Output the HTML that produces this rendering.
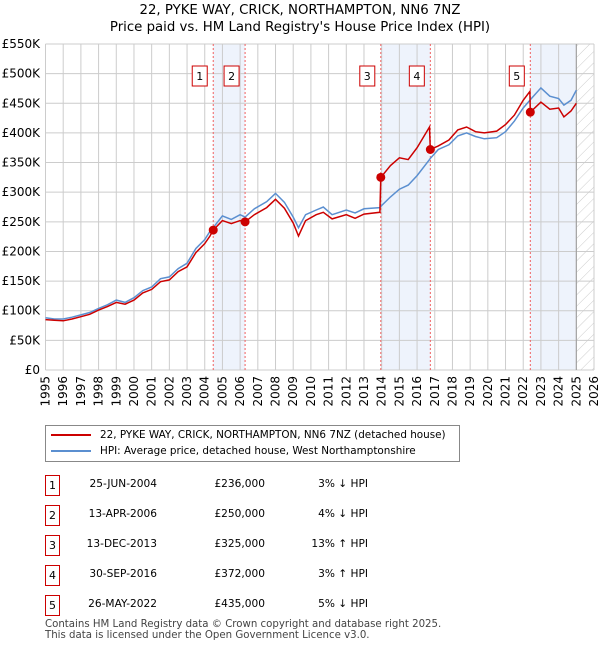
<!DOCTYPE html>
<html><head><meta charset="utf-8"><style>
body{margin:0;background:#fff;font-family:"DejaVu Sans","Liberation Sans",sans-serif;}
#wrap{position:relative;width:600px;height:650px;overflow:hidden}
.t{position:absolute;font-size:10.6px;color:#000;white-space:nowrap}
.box{position:absolute;width:13px;height:19px;border:1px solid #c00;font-size:11px;text-align:center;line-height:19px}
</style></head><body><div id="wrap">
<svg id="chart" width="600" height="420" style="position:absolute;left:0;top:0"></svg>
<div style="position:absolute;left:45px;top:425px;width:413px;height:35px;border:1px solid #888;font-size:10.4px;white-space:nowrap">
<div style="position:absolute;left:5px;top:3px"><span style="display:inline-block;width:40px;height:2px;background:#c00;vertical-align:middle;margin-right:9px"></span>22, PYKE WAY, CRICK, NORTHAMPTON, NN6 7NZ (detached house)</div>
<div style="position:absolute;left:5px;top:19px"><span style="display:inline-block;width:40px;height:2px;background:#5b8fd0;vertical-align:middle;margin-right:9px"></span>HPI: Average price, detached house, West Northamptonshire</div>
</div>
<div id="table"></div>
<div class="t" style="left:45px;top:619px;color:#444;line-height:11px;font-size:10.2px">Contains HM Land Registry data © Crown copyright and database right 2025.<br>This data is licensed under the Open Government Licence v3.0.</div>
</div>
<script>
const dates=[1995.0,1995.5,1996.0,1996.5,1997.0,1997.5,1998.0,1998.5,1999.0,1999.5,2000.0,2000.5,2001.0,2001.5,2002.0,2002.5,2003.0,2003.5,2004.0,2004.3,2004.48,2005.0,2005.5,2006.0,2006.28,2006.8,2007.5,2008.0,2008.5,2009.0,2009.3,2009.7,2010.3,2010.7,2011.2,2012.0,2012.5,2013.0,2013.9,2013.95,2014.5,2015.0,2015.5,2016.0,2016.7,2016.75,2017.2,2017.8,2018.3,2018.8,2019.3,2019.8,2020.5,2021.0,2021.5,2022.0,2022.38,2022.4,2023.0,2023.5,2024.0,2024.3,2024.7,2025.0];
const hpi=[88,86,86,89,93,97,104,110,118,114,122,134,140,154,157,171,180,205,220,234,240,260,254,262,258,272,284,298,283,258,240,262,270,275,262,270,265,272,274,276,292,305,312,328,355,357,372,380,395,400,394,390,392,402,420,442,455,456,476,462,458,447,455,472];
const price=[85,84,83,86,90,94,101,107,114,111,118,130,136,149,152,166,174,198,213,226,236,252,247,252,250,262,274,288,273,248,226,252,262,266,255,262,256,263,266,325,345,358,355,375,410,372,378,388,405,410,402,400,403,414,430,455,470,435,452,440,442,427,437,450];
const saleLabels=["1","2","3","4","5"];
const saleDates=[2004.48,2006.28,2013.95,2016.75,2022.4];
const salePrices=[236,250,325,372,435];
const saleDateText=["25-JUN-2004","13-APR-2006","13-DEC-2013","30-SEP-2016","26-MAY-2022"];
const salePriceText=["£236,000","£250,000","£325,000","£372,000","£435,000"];
const salePctText=["3% ↓ HPI","4% ↓ HPI","13% ↑ HPI","3% ↑ HPI","5% ↓ HPI"];
const yTicks=[0,50,100,150,200,250,300,350,400,450,500,550];
const xTicks=[];for(let y=1995;y<=2026;y++)xTicks.push(y);

const X0=45.5,X1=594,Y0=370,Y1=44;
const sx=v=>X0+(v-1995)/(2026-1995)*(X1-X0);
const sy=v=>Y0-v/550*(Y0-Y1);
const NS="http://www.w3.org/2000/svg";
const svg=document.getElementById('chart');
function mk(tag,attrs,parent){const e=document.createElementNS(NS,tag);for(const k in attrs)e.setAttribute(k,attrs[k]);(parent||svg).appendChild(e);return e;}
let t=mk('text',{x:300,y:14,'text-anchor':'middle','font-size':'13.3',fill:'#000'});t.textContent="22, PYKE WAY, CRICK, NORTHAMPTON, NN6 7NZ";


t=mk('text',{x:300,y:31,'text-anchor':'middle','font-size':'13.3',fill:'#000'});t.textContent="Price paid vs. HM Land Registry's House Price Index (HPI)";


const spans=[[0,1],[2,3],[4,-1]];
spans.forEach((s,i)=>{const a=sx(saleDates[s[0]]);const b=s[1]<0?sx(2025.0):sx(saleDates[s[1]]);
const r=mk('rect',{x:a,y:Y1,width:b-a,height:Y0-Y1,fill:'#eef3fc'});

});
const defs=mk('defs',{});const pat=mk('pattern',{id:'h',width:8,height:8,patternUnits:'userSpaceOnUse',patternTransform:'rotate(45)'},defs);
mk('line',{x1:0,y1:0,x2:0,y2:8,stroke:'#ccc','stroke-width':1},pat);
const hx=sx(2025.0);
const hr=mk('rect',{x:hx,y:Y1,width:X1-hx,height:Y0-Y1,fill:'url(#h)'});


yTicks.forEach(v=>{mk('line',{x1:X0,x2:X1,y1:sy(v),y2:sy(v),stroke:'#ccc'});
const l=mk('text',{x:40,y:sy(v)+4,'text-anchor':'end','font-size':'12',fill:'#000'});l.textContent=v===0?'£0':'£'+v+'K';

});
xTicks.forEach(v=>{mk('line',{x1:sx(v),x2:sx(v),y1:Y1,y2:Y0,stroke:'#ccc'});
const l=mk('text',{x:0,y:0,'text-anchor':'end','font-size':'12',fill:'#000',transform:`translate(${sx(v)+4},${Y0+6}) rotate(-90)`});l.textContent=v;

});
mk('line',{x1:hx,x2:hx,y1:Y1,y2:Y0,stroke:'#999'});
saleDates.forEach((d,i)=>{const ln=mk('line',{x1:sx(d),x2:sx(d),y1:Y1,y2:Y0,stroke:'#f06060','stroke-dasharray':'2,2'});


const bx=sx(d)-13;const g=mk('g',{});


mk('rect',{x:bx-8,y:66,width:15,height:20,fill:'#fff',stroke:'#c00'},g);
const tt=mk('text',{x:bx-0.5,y:80,'text-anchor':'middle','font-size':'11',fill:'#000'},g);tt.textContent=saleLabels[i];});
const pts=a=>a.map((v,i)=>sx(dates[i]).toFixed(1)+','+sy(v).toFixed(1)).join(' ');
const hl=mk('polyline',{points:pts(hpi),fill:'none',stroke:'#5b8fd0','stroke-width':1.5});


const pl=mk('polyline',{points:pts(price),fill:'none',stroke:'#cc0000','stroke-width':1.5});


saleDates.forEach((d,i)=>{const c=mk('circle',{cx:sx(d),cy:sy(salePrices[i]),r:4.5,fill:'#cc0000'});

});
const tb=document.getElementById('table');
saleLabels.forEach((lab,i)=>{const y=475+i*30;
const b=document.createElement('div');b.className='box';b.style.left='45px';b.style.top=y+'px';b.textContent=lab;


tb.appendChild(b);
[[saleDateText[i],157,'row-date'],[salePriceText[i],265,'row-price'],[salePctText[i],368,'row-hpi-diff']].forEach(c=>{
const d=document.createElement('div');d.className='t';d.style.right=(600-c[1])+'px';d.style.top=(y+3)+'px';d.textContent=c[0];


tb.appendChild(d);});});
</script></body></html>
